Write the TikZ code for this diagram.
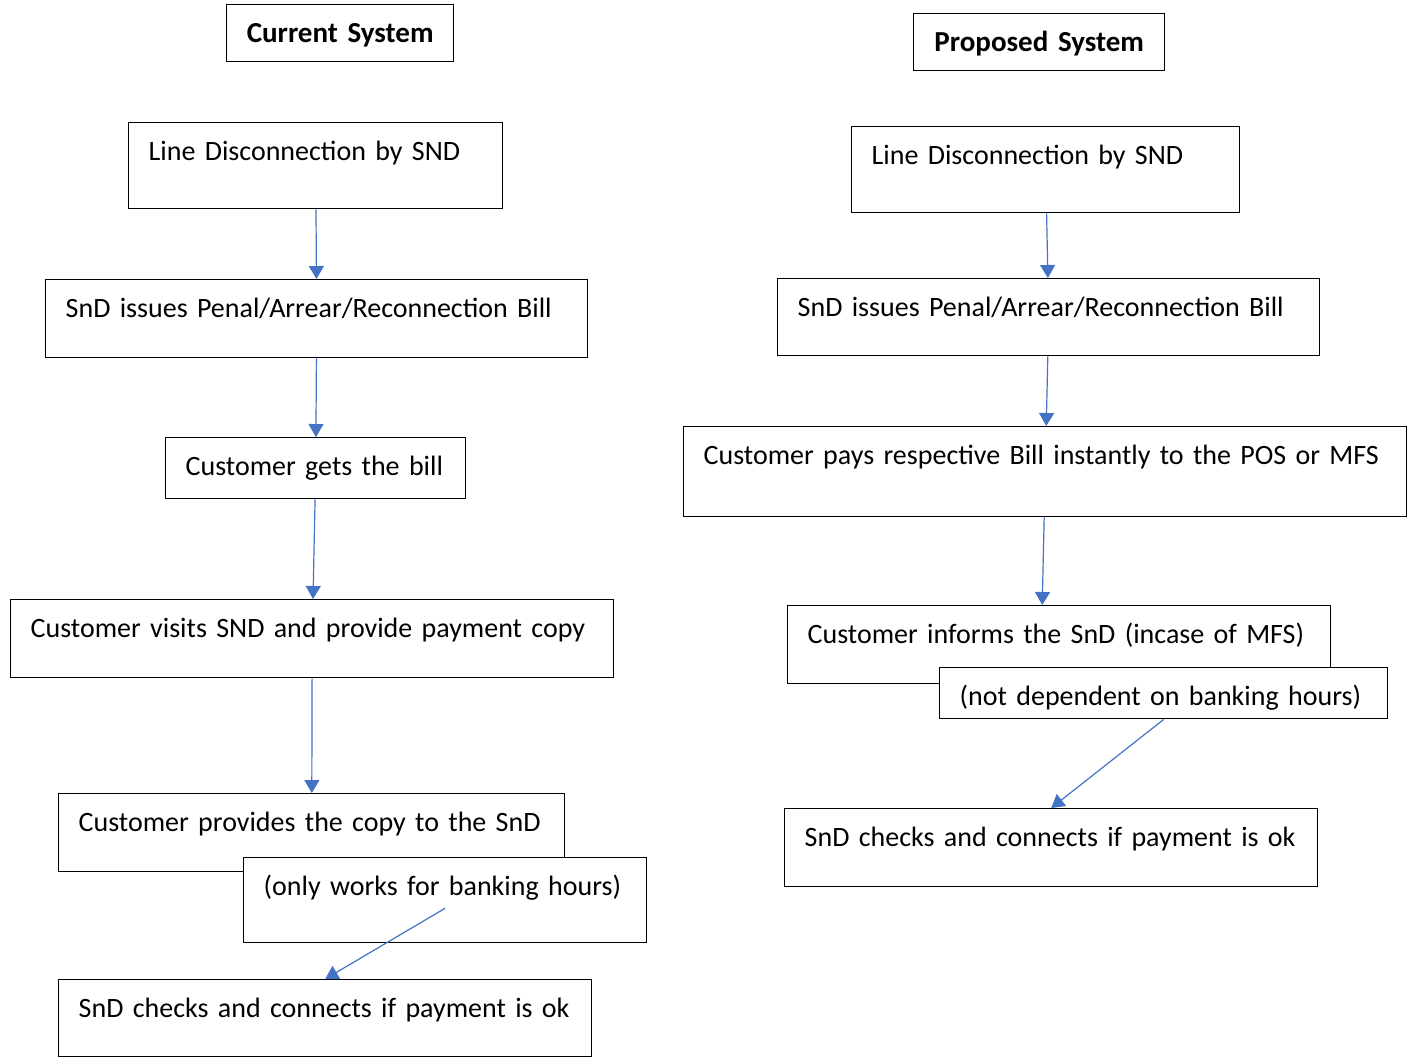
\documentclass[tikz,border=0pt]{standalone}
\usepackage{fontspec}
\setmainfont{Carlito}
\usetikzlibrary{positioning,arrows.meta}

\definecolor{flowblue}{HTML}{4472C4}
\newcommand{\boxfont}{\fontsize{14}{16}\selectfont}

\tikzset{
  stepbox/.style 2 args={draw, line width=0.7pt, anchor=north west, inner xsep=10pt, inner ysep=0pt,
    text width=#1, align=left, text height=19pt, text depth=#2, font=\boxfont},
  titlebox/.style 2 args={stepbox={#1}{#2}, align=center, font=\fontsize{14.5}{16}\selectfont\bfseries},
  flow/.style={draw=flowblue, line width=0.6pt, -{Triangle[width=7.5pt,length=6.5pt]}}
}

\begin{document}
\begin{tikzpicture}[x=0.5pt, y=-0.5pt]
\useasboundingbox (0,0) rectangle (1411,1057);

% current system
\node[titlebox={93.5pt}{9.5pt}] (curr) at (226,4) {Current System};
\node[stepbox={167pt}{24pt}] (c1) at (128,122) {Line Disconnection by SND};
\node[stepbox={251pt}{20pt}] (c2) at (45,279) {SnD issues Penal/Arrear/Reconnection Bill};
\node[stepbox={130pt}{11.5pt}] (c3) at (165,437) {Customer gets the bill};
\node[stepbox={281.5pt}{20pt}] (c4) at (10,599) {Customer visits SND and provide payment copy};
\node[stepbox={233pt}{20pt}] (c5) at (58,793) {Customer provides the copy to the SnD};
\node[stepbox={181.5pt}{23.5pt}, fill=white] (c5note) at (243,857) {(only works for banking hours)};
\node[stepbox={246.5pt}{19.5pt}] (c6) at (58,979) {SnD checks and connects if payment is ok};

\draw[flow] (c1) -- (c2);
\draw[flow] (c2) -- (c3);
\draw[flow] (c3) -- (c4);
\draw[flow] (c4) -- (c5);
\draw[flow] ([yshift=-4pt]c5note.center) -- (c6.north);

% proposed system
\node[titlebox={105.5pt}{9.5pt}] (prop) at (913,13) {Proposed System};
\node[stepbox={174pt}{24pt}] (p1) at (851,126) {Line Disconnection by SND};
\node[stepbox={251pt}{19.5pt}] (p2) at (777,278) {SnD issues Penal/Arrear/Reconnection Bill};
\node[stepbox={341.5pt}{26pt}] (p3) at (683,426) {Customer pays respective Bill instantly to the POS or MFS};
\node[stepbox={251.5pt}{20pt}] (p4) at (787,605) {Customer informs the SnD (incase of MFS)};
\node[stepbox={204pt}{6.5pt}, fill=white] (p4note) at (939,667) {(not dependent on banking hours)};
\node[stepbox={246.5pt}{20pt}] (p5) at (784,808) {SnD checks and connects if payment is ok};

\draw[flow] (p1) -- (p2);
\draw[flow] (p2) -- (p3);
\draw[flow] (p3) -- ([xshift=-8.5pt]p4.north);
\draw[flow] (p4note.south) -- (p5.north);
\end{tikzpicture}
\end{document}
